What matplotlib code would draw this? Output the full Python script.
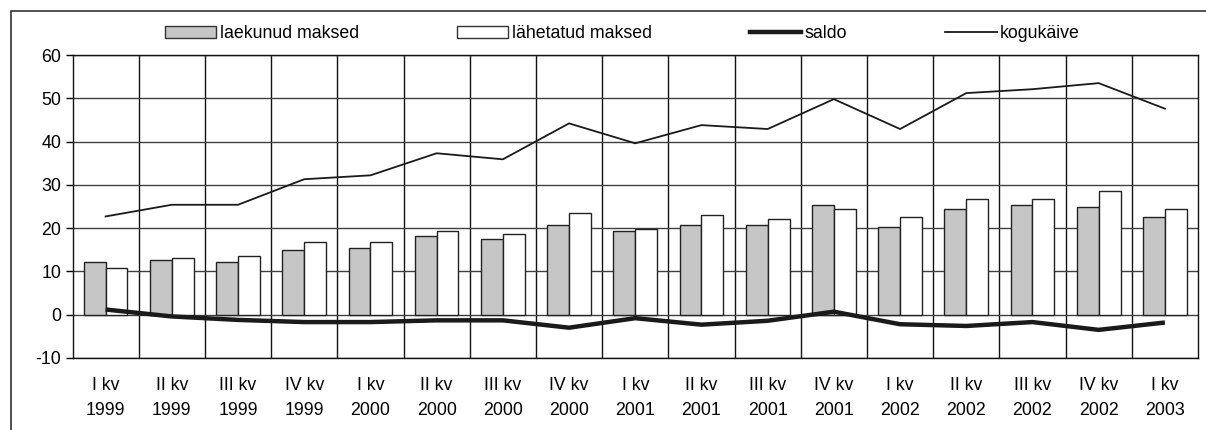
"""Laekunud ja lähetatud maksed kvartalite kaupa"""

import matplotlib
matplotlib.use('Agg')
import matplotlib.pyplot as plt
import numpy as np
from matplotlib.lines import Line2D
from matplotlib.patches import Patch, Rectangle

plt.rcParams['font.family'] = ['Liberation Sans', 'DejaVu Sans']
plt.rcParams['axes.unicode_minus'] = False

quarters = ['I kv', 'II kv', 'III kv', 'IV kv'] * 4 + ['I kv']
years = ['1999'] * 4 + ['2000'] * 4 + ['2001'] * 4 + ['2002'] * 4 + ['2003']

laekunud = [12.2, 12.6, 12.2, 14.9, 15.4, 18.1, 17.6, 20.8, 19.4,
            20.8, 20.8, 25.4, 20.3, 24.5, 25.4, 24.9, 22.6]
lahetatud = [10.8, 13.1, 13.5, 16.7, 16.7, 19.4, 18.6, 23.6, 19.9,
             23.1, 22.2, 24.4, 22.6, 26.7, 26.7, 28.6, 24.4]
saldo = [1.2, -0.4, -1.2, -1.7, -1.7, -1.3, -1.3, -3.0, -0.8,
         -2.3, -1.4, 0.7, -2.2, -2.6, -1.7, -3.5, -1.8]
kogukaive = [22.7, 25.4, 25.4, 31.3, 32.2, 37.3, 35.9, 44.2, 39.6,
             43.8, 42.9, 49.8, 42.9, 51.2, 52.1, 53.5, 47.6]

FS = 12.8
GRAY = '#c6c6c6'

fig = plt.figure(figsize=(12.06, 4.30), dpi=100)
ax = fig.add_axes([72.5 / 1206, 72 / 430, (1198 - 72.5) / 1206, (358 - 55) / 430])

x = np.arange(len(laekunud))
w = 0.33
ax.bar(x - w / 2, laekunud, w, color=GRAY, edgecolor='#222222', linewidth=1.0, zorder=3)
ax.bar(x + w / 2, lahetatud, w, color='white', edgecolor='#222222', linewidth=1.0, zorder=3)
ax.plot(x, saldo, color='#1a1a1a', lw=3.2, zorder=4, solid_capstyle='butt')
ax.plot(x, kogukaive, color='#1a1a1a', lw=1.3, zorder=4)

ax.set_xlim(-0.5, len(x) - 0.5)
ax.set_ylim(-10, 60)
ax.set_yticks(range(-10, 61, 10))
ax.set_xticks(x)
ax.set_xticklabels([f'{q}\n{y}' for q, y in zip(quarters, years)], linespacing=1.6)
ax.set_xticks(np.arange(0.5, len(x) - 0.5, 1), minor=True)

ax.tick_params(axis='x', which='both', length=0, pad=14, labelsize=FS)
ax.tick_params(axis='y', length=5, width=1, direction='out', labelsize=FS, pad=3)
ax.grid(axis='y', which='major', color='#404040', lw=1.0, zorder=0)
ax.grid(axis='x', which='minor', color='#111111', lw=1.0, zorder=0)
ax.set_axisbelow(True)
for s in ax.spines.values():
    s.set_color('#111111')
    s.set_linewidth(1.0)

handles = [
    Patch(facecolor=GRAY, edgecolor='#333333', linewidth=1.0),
    Patch(facecolor='white', edgecolor='#333333', linewidth=1.0),
    Line2D([], [], color='#1a1a1a', lw=3.2),
    Line2D([], [], color='#1a1a1a', lw=1.3),
]
labels = ['laekunud maksed', 'lähetatud maksed', 'saldo', 'kogukäive']
fig.legend(handles, labels, loc='center', bbox_to_anchor=(0.516, 1 - 34 / 430),
           ncol=4, frameon=False, fontsize=FS, handlelength=2.9, handleheight=0.62,
           handletextpad=0.2, columnspacing=5.5, borderpad=0, borderaxespad=0)

# outer frame (cut off at right and bottom in the original)
fig.patches.append(Rectangle((11 / 1206, -0.1), 1.2, 1 - 11 / 430 + 0.1,
                             transform=fig.transFigure, fill=False,
                             edgecolor='#333333', linewidth=1.2))

fig.savefig('out.png', dpi=100)
